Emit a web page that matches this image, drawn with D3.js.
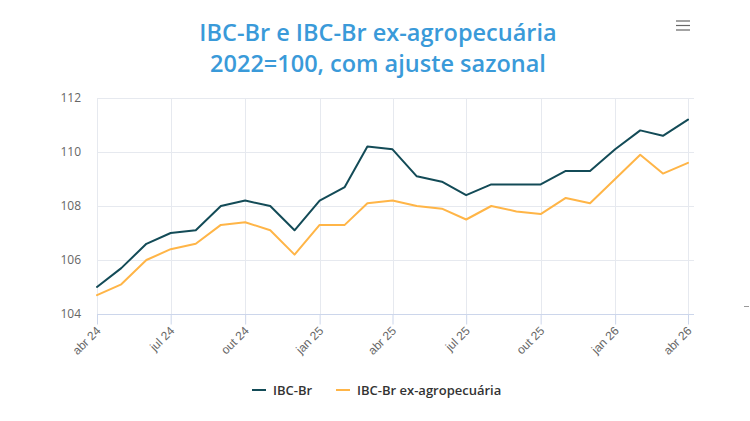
<!DOCTYPE html>
<html>
<head>
<meta charset="utf-8">
<script src="https://cdn.jsdelivr.net/npm/d3@7"></script>
<style>
  body { margin: 0; background: #fff; }
  svg { display: block; font-family: "Open Sans", "DejaVu Sans", sans-serif; }
</style>
</head>
<body>
<div id="chart"></div>
<script>
// meses de abr/24 a abr/26
var months = ["2024-04","2024-05","2024-06","2024-07","2024-08","2024-09","2024-10","2024-11","2024-12",
  "2025-01","2025-02","2025-03","2025-04","2025-05","2025-06","2025-07","2025-08","2025-09","2025-10",
  "2025-11","2025-12","2026-01","2026-02","2026-03","2026-04"];
var ibcBr = [105.0,105.7,106.6,107.0,107.1,108.0,108.2,108.0,107.1,
  108.2,108.7,110.2,110.1,109.1,108.9,108.4,108.8,108.8,108.8,
  109.3,109.3,110.1,110.8,110.6,111.2];
var ibcExAgro = [104.7,105.1,106.0,106.4,106.6,107.3,107.4,107.1,106.2,
  107.3,107.3,108.1,108.2,108.0,107.9,107.5,108.0,107.8,107.7,
  108.3,108.1,109.0,109.9,109.2,109.6];
var yTicks = [104,106,108,110,112];
var xTickMonths = ["2024-04","2024-07","2024-10","2025-01","2025-04","2025-07","2025-10","2026-01","2026-04"];
var monthNames = ["jan","fev","mar","abr","mai","jun","jul","ago","set","out","nov","dez"];

var W = 750, H = 421;
var parse = d3.utcParse("%Y-%m");
var dates = months.map(parse);

var svg = d3.select("#chart").append("svg").attr("width", W).attr("height", H);

var x = d3.scaleUtc().domain([dates[0], dates[dates.length - 1]]).range([97, 688]);
var y = d3.scaleLinear().domain([104, 112]).range([314, 98]);
var plotRight = 694;

// título
var title = svg.append("text").attr("x", 378).attr("text-anchor", "middle")
  .attr("fill", "#3a9ad9").style("font-size", "23.5px").style("font-weight", 600);
title.append("tspan").attr("x", 378).attr("y", 41).text("IBC-Br e IBC-Br ex-agropecuária");
title.append("tspan").attr("x", 378).attr("y", 72).text("2022=100, com ajuste sazonal");

// menu
[21, 25.5, 30].forEach(function(yy){
  svg.append("line").attr("x1", 676).attr("x2", 690).attr("y1", yy).attr("y2", yy)
    .attr("stroke", "#666").attr("stroke-width", 1.2);
});

// grade horizontal
svg.append("g").selectAll("line").data(yTicks.slice(1)).join("line")
  .attr("x1", 97).attr("x2", plotRight)
  .attr("y1", function(d){ return Math.round(y(d)) + 0.5; })
  .attr("y2", function(d){ return Math.round(y(d)) + 0.5; })
  .attr("stroke", "#e6e9ef");

// grade vertical
var xt = xTickMonths.map(parse);
svg.append("g").selectAll("line").data(xt).join("line")
  .attr("x1", function(d){ return Math.round(x(d)) + 0.5; })
  .attr("x2", function(d){ return Math.round(x(d)) + 0.5; })
  .attr("y1", 98).attr("y2", 314)
  .attr("stroke", "#e6e9ef");

// eixo y
svg.append("g").selectAll("text").data(yTicks).join("text")
  .attr("x", 81).attr("y", function(d){ return y(d) + 4; })
  .attr("text-anchor", "end").attr("fill", "#666").style("font-size", "12px")
  .text(function(d){ return d; });

// eixo x
var xAxis = d3.axisBottom(x).tickValues(xt).tickSize(10)
  .tickFormat(function(d){ return monthNames[d.getUTCMonth()] + " " + String(d.getUTCFullYear()).slice(2); });
var gx = svg.append("g").attr("transform", "translate(0,314.5)").call(xAxis);
gx.select(".domain").attr("d", "M97,0H" + plotRight).attr("stroke", "#ccd6eb");
gx.selectAll(".tick line").attr("stroke", "#ccd6eb");
gx.selectAll(".tick text").attr("fill", "#666").style("font-size", "12px")
  .attr("text-anchor", "end").attr("dy", null).attr("y", 0)
  .attr("transform", "translate(4,17) rotate(-45)");

// séries
var line = d3.line().x(function(d){ return x(d[0]); }).y(function(d){ return y(d[1]); });
var series = [
  {name: "IBC-Br", color: "#134b57", values: ibcBr},
  {name: "IBC-Br ex-agropecuária", color: "#ffb547", values: ibcExAgro}
];
series.slice().reverse().forEach(function(s){
  svg.append("path").datum(dates.map(function(d, i){ return [d, s.values[i]]; }))
    .attr("d", line).attr("fill", "none").attr("stroke", s.color)
    .attr("stroke-width", 2).attr("stroke-linejoin", "round").attr("stroke-linecap", "round");
});

// legenda
var legX = [252, 336];
series.forEach(function(s, i){
  var g = svg.append("g").attr("transform", "translate(" + legX[i] + ",390)");
  g.append("line").attr("x1", 0).attr("x2", 14).attr("stroke", s.color).attr("stroke-width", 2);
  g.append("text").attr("x", 21).attr("y", 4.5).attr("fill", "#333")
    .style("font-size", "13px").style("font-weight", 600).text(s.name);
});

// marca solta na borda
svg.append("line").attr("x1", 744).attr("x2", 749).attr("y1", 306.5).attr("y2", 306.5).attr("stroke", "#999");
</script>
</body>
</html>
